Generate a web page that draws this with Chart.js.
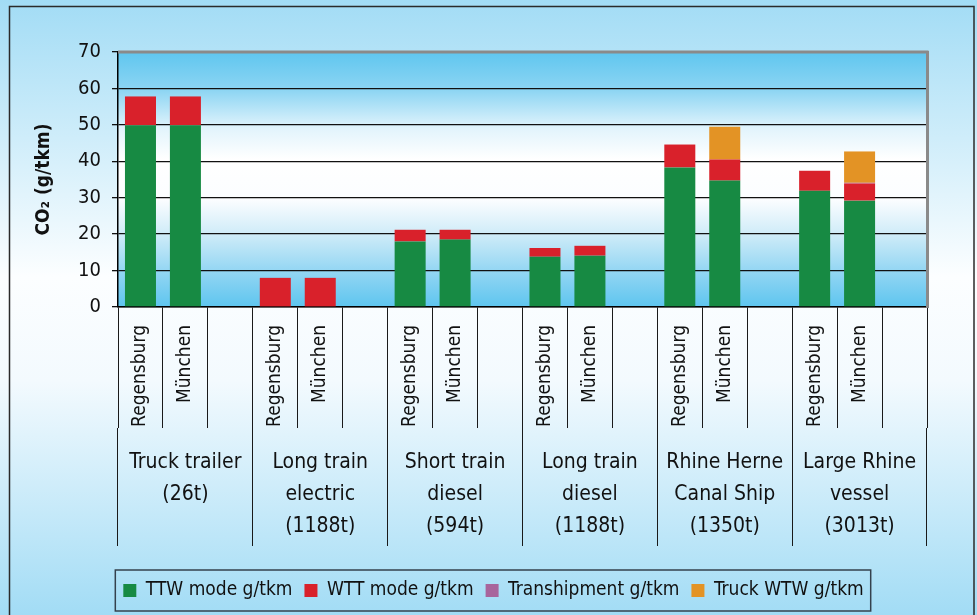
<!DOCTYPE html>
<html>
<head>
<meta charset="utf-8">
<script src="https://cdn.jsdelivr.net/npm/chart.js@4.4.0/dist/chart.umd.min.js"></script>
<style>
  html, body { margin: 0; padding: 0; background: #fff; }
</style>
</head>
<body>
<canvas id="co2Chart" width="977" height="615"></canvas>
<script>
// Categorias: 6 grupos x 3 posiciones (la tercera va vacia)
const sitios = [
  "Regensburg", "München", "",
  "Regensburg", "München", "",
  "Regensburg", "München", "",
  "Regensburg", "München", "",
  "Regensburg", "München", "",
  "Regensburg", "München", "",
];
const grupos = [
  ["Truck trailer", "(26t)"],
  ["Long train", "electric", "(1188t)"],
  ["Short train", "diesel", "(594t)"],
  ["Long train", "diesel", "(1188t)"],
  ["Rhine Herne", "Canal Ship", "(1350t)"],
  ["Large Rhine", "vessel", "(3013t)"],
];

// Series (g/tkm)
const ttw = [49.9, 49.9, null, 0, 0, null, 18.0, 18.5, null, 13.8, 14.1, null, 38.3, 34.7, null, 31.9, 29.2, null];
const wtt = [7.9, 7.9, null, 8.0, 8.0, null, 3.2, 2.7, null, 2.4, 2.7, null, 6.3, 5.8, null, 5.5, 4.7, null];
const transhipment = [0, 0, null, 0, 0, null, 0, 0, null, 0, 0, null, 0, 0, null, 0, 0.2, null];
const truckWtw = [0, 0, null, 0, 0, null, 0, 0, null, 0, 0, null, 0, 9.0, null, 0, 8.6, null];

const yTicks = [0, 10, 20, 30, 40, 50, 60, 70];

const FUENTE = "'DejaVu Sans Condensed', 'DejaVu Sans', sans-serif";

/* fondo degradado del grafico y del area de dibujo */
const fondo = {
  id: 'fondo',
  beforeDraw(chart) {
    const { ctx, width, height, chartArea: a } = chart;
    ctx.save();
    let g = ctx.createLinearGradient(0, 0, 0, height);
    g.addColorStop(0, '#a2dcf5');
    g.addColorStop(0.45, '#fcfeff');
    g.addColorStop(0.62, '#f3fafe');
    g.addColorStop(1, '#a2dcf5');
    ctx.fillStyle = g;
    ctx.fillRect(0, 0, width, height);

    g = ctx.createLinearGradient(0, a.top, 0, a.bottom);
    g.addColorStop(0, '#5fc6ef');
    g.addColorStop(0.15, '#8dd5f3');
    g.addColorStop(0.3, '#e2f4fc');
    g.addColorStop(0.42, '#ffffff');
    g.addColorStop(0.58, '#fbfdff');
    g.addColorStop(0.72, '#cdebf8');
    g.addColorStop(0.86, '#93d6f3');
    g.addColorStop(1, '#5ec5ef');
    ctx.fillStyle = g;
    ctx.fillRect(a.left, a.top, a.right - a.left, a.bottom - a.top);

    // marco exterior
    ctx.strokeStyle = '#2a2a2a';
    ctx.lineWidth = 1.5;
    ctx.strokeRect(9.5, 6.5, width - 12.5, height);
    ctx.restore();
  },
  afterDraw(chart) {
    const { ctx, chartArea: a } = chart;
    ctx.save();
    // borde gris superior del area
    ctx.strokeStyle = '#8a8a8a';
    ctx.lineWidth = 3;
    ctx.beginPath();
    ctx.moveTo(a.left, a.top);
    ctx.lineTo(a.right + 1.5, a.top);
    ctx.stroke();

    // recuadro de la leyenda
    const hb = chart.legend.legendHitBoxes;
    if (hb && hb.length) {
      const last = hb[hb.length - 1];
      const x0 = hb[0].left - 8;
      const x1 = last.left + last.width + 7;
      const cy = hb[0].top + hb[0].height / 2;
      ctx.strokeStyle = '#34414d';
      ctx.lineWidth = 1.5;
      ctx.strokeRect(x0, cy - 20.5, x1 - x0, 41);
    }
    ctx.restore();
  }
};

const ctx = document.getElementById('co2Chart').getContext('2d');

const barra = { barPercentage: 0.69, categoryPercentage: 1, borderWidth: 0 };

new Chart(ctx, {
  type: 'bar',
  plugins: [fondo],
  data: {
    labels: sitios,
    datasets: [
      { label: 'TTW mode g/tkm', data: ttw, backgroundColor: '#178a43', ...barra },
      { label: 'WTT mode g/tkm', data: wtt, backgroundColor: '#d9212b', ...barra },
      { label: 'Transhipment g/tkm', data: transhipment, backgroundColor: '#a8659c', ...barra },
      { label: 'Truck WTW g/tkm', data: truckWtw, backgroundColor: '#e39325', ...barra },
    ],
  },
  options: {
    responsive: false,
    animation: false,
    layout: { padding: { left: 10, right: 0, top: 52, bottom: 5 } },
    plugins: {
      tooltip: { enabled: false },
      legend: {
        position: 'bottom',
        labels: {
          boxWidth: 13,
          boxHeight: 13,
          padding: 12,
          color: '#111',
          font: { family: FUENTE, size: 19 },
        },
      },
    },
    scales: {
      x: {
        stacked: true,
        weight: 0,
        offset: true,
        afterFit: (s) => { s.height = 121; },
        border: { color: '#000', width: 1.5 },
        grid: {
          offset: true,
          drawOnChartArea: false,
          tickLength: 121,
          color: '#1a1a1a',
          lineWidth: 1,
        },
        ticks: {
          autoSkip: false,
          minRotation: 90,
          maxRotation: 90,
          padding: -103,
          color: '#111',
          font: { family: FUENTE, size: 19 },
        },
      },
      x2: {
        type: 'category',
        position: 'bottom',
        labels: grupos,
        weight: 1,
        offset: true,
        afterFit: (s) => { s.height = 141; },
        border: { display: false },
        grid: {
          offset: true,
          drawOnChartArea: false,
          tickLength: 118,
          color: '#1a1a1a',
          lineWidth: 1,
        },
        ticks: {
          autoSkip: false,
          maxRotation: 0,
          padding: -99,
          color: '#111',
          font: { family: FUENTE, size: 21, lineHeight: 1.52 },
        },
      },
      y: {
        stacked: true,
        min: 0,
        max: 70,
        afterFit: (s) => { s.width = 108; },
        afterBuildTicks: (s) => { s.ticks = yTicks.map(v => ({ value: v })); },
        border: { color: '#000', width: 1.5 },
        grid: {
          color: '#111',
          lineWidth: 1.3,
          tickLength: 6,
        },
        ticks: {
          padding: 11,
          color: '#111',
          font: { family: FUENTE, size: 20 },
        },
        title: {
          display: true,
          text: 'CO₂ (g/tkm)',
          color: '#111',
          padding: { top: 23, bottom: 0 },
          font: { family: FUENTE, size: 19, weight: 'bold' },
        },
      },
      yr: {
        type: 'linear',
        position: 'right',
        min: 0,
        max: 70,
        afterFit: (s) => { s.width = 50; },
        border: { color: '#8a8a8a', width: 3 },
        grid: { drawOnChartArea: false, drawTicks: false },
        ticks: { display: false },
      },
    },
  },
});
</script>
</body>
</html>
